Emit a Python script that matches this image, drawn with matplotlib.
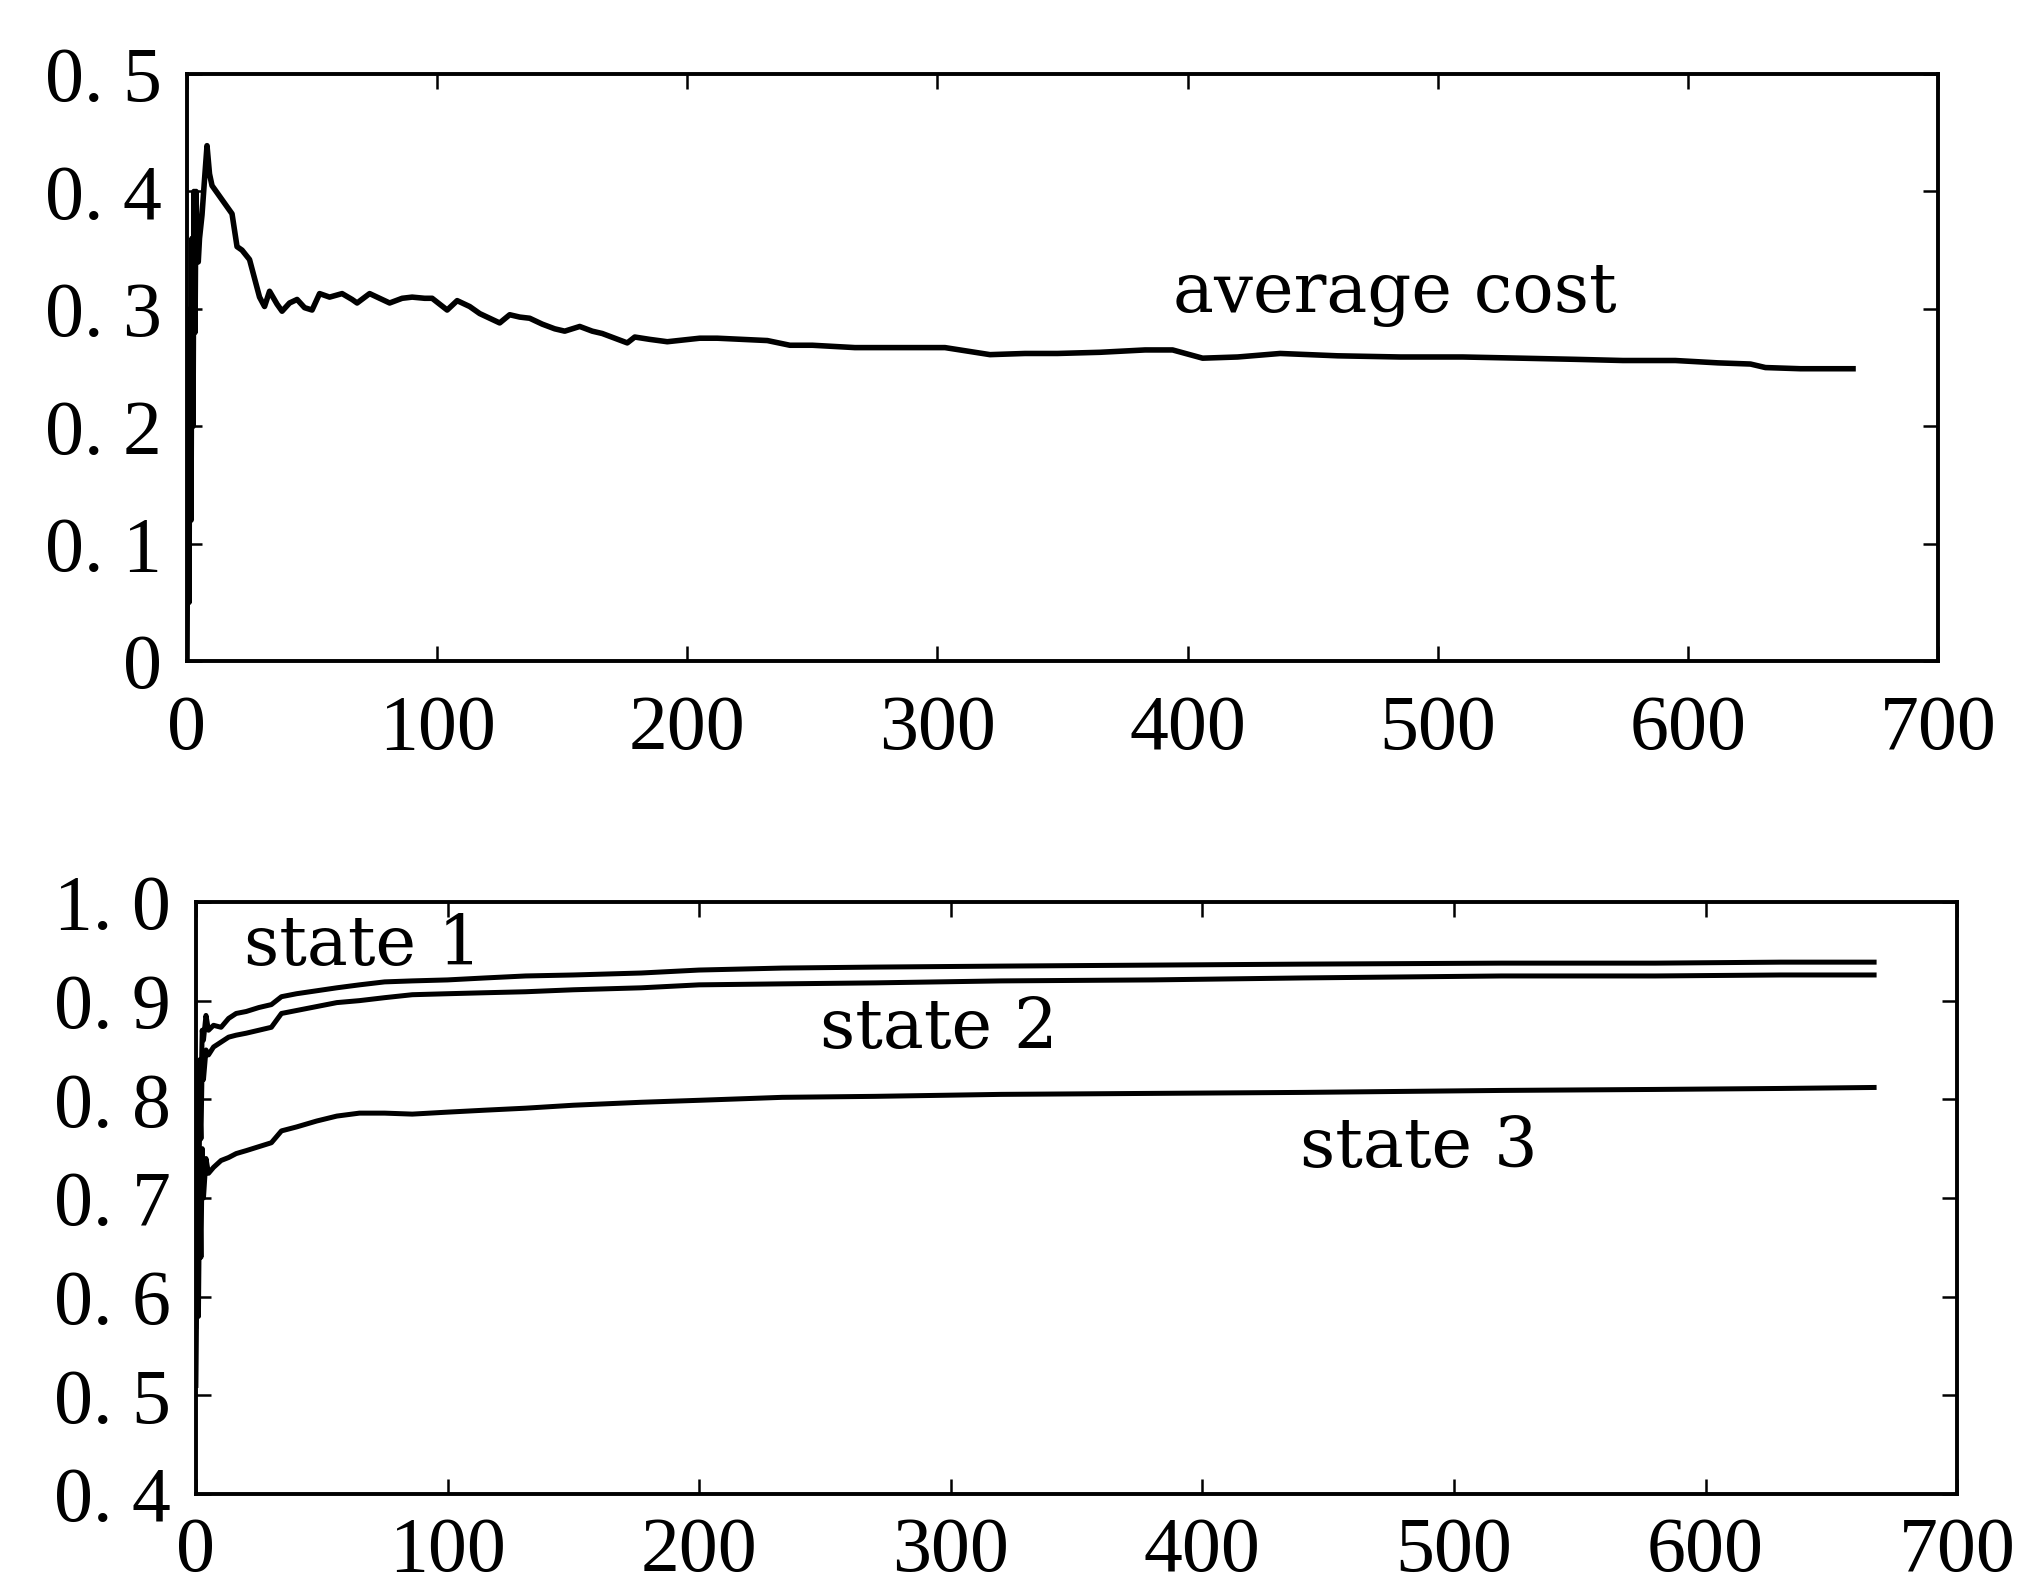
import matplotlib
matplotlib.use("Agg")
import matplotlib.pyplot as plt
from matplotlib.ticker import FixedLocator, FuncFormatter

# average cost curve (top panel)
cost_x = [0, 0.4, 0.8, 1.2, 1.6, 2, 2.4, 2.8, 3.2, 3.6, 4, 4.5, 5, 6, 7, 8, 9,
          10, 13, 15, 18, 20, 22, 25, 29, 31, 33, 36, 38, 41, 44, 47, 50, 53,
          57, 62, 66, 68, 73, 77, 81, 86, 90, 95, 98, 104, 108, 113, 117, 121,
          125, 129, 133, 137, 142, 147, 151, 157, 162, 166, 171, 176, 179, 185,
          192, 205, 212, 222, 232, 241, 250, 267, 285, 303, 321, 335, 348, 365,
          383, 394, 406, 420, 437, 460, 485, 510, 533, 555, 574, 595, 612, 625,
          631, 645, 666]
cost_y = [0.0, 0.22, 0.05, 0.30, 0.12, 0.36, 0.20, 0.40, 0.28, 0.40, 0.36,
          0.34, 0.36, 0.38, 0.41, 0.439, 0.415, 0.405, 0.396, 0.39, 0.381,
          0.353, 0.35, 0.342, 0.310, 0.302, 0.315, 0.304, 0.298, 0.305, 0.308,
          0.301, 0.299, 0.313, 0.310, 0.313, 0.308, 0.305, 0.313, 0.309, 0.305,
          0.309, 0.310, 0.309, 0.309, 0.299, 0.307, 0.302, 0.296, 0.292, 0.288,
          0.295, 0.293, 0.292, 0.287, 0.283, 0.281, 0.285, 0.281, 0.279, 0.275,
          0.271, 0.276, 0.274, 0.272, 0.275, 0.275, 0.274, 0.273, 0.269, 0.269,
          0.267, 0.267, 0.267, 0.261, 0.262, 0.262, 0.263, 0.265, 0.265, 0.258,
          0.259, 0.262, 0.260, 0.259, 0.259, 0.258, 0.257, 0.256, 0.256, 0.254,
          0.253, 0.250, 0.249, 0.249]

# probabilities of the three states (bottom panel)
state_x = [0, 0.5, 1, 1.5, 2, 2.5, 3, 4, 5, 7, 10, 13, 16, 20, 25, 30, 34, 40,
           48, 56, 65, 75, 86, 100, 115, 131, 150, 177, 200, 233, 270, 320, 380,
           440, 519, 580, 630, 667]
state1 = [0.62, 0.78, 0.70, 0.84, 0.80, 0.87, 0.86, 0.885, 0.87, 0.875, 0.873,
          0.882, 0.887, 0.889, 0.893, 0.896, 0.904, 0.907, 0.910, 0.913, 0.916,
          0.919, 0.920, 0.921, 0.923, 0.925, 0.926, 0.928, 0.931, 0.933, 0.934,
          0.935, 0.936, 0.937, 0.938, 0.938, 0.939, 0.939]
state2 = [0.57, 0.74, 0.66, 0.80, 0.76, 0.84, 0.82, 0.85, 0.845, 0.853, 0.858,
          0.863, 0.865, 0.867, 0.870, 0.873, 0.887, 0.890, 0.894, 0.898, 0.900,
          0.903, 0.906, 0.907, 0.908, 0.909, 0.911, 0.913, 0.916, 0.917, 0.918,
          0.920, 0.921, 0.923, 0.925, 0.925, 0.926, 0.926]
state3 = [0.51, 0.66, 0.58, 0.72, 0.64, 0.75, 0.70, 0.74, 0.725, 0.731, 0.738,
          0.741, 0.745, 0.748, 0.752, 0.756, 0.768, 0.772, 0.778, 0.783, 0.786,
          0.786, 0.785, 0.787, 0.789, 0.791, 0.794, 0.797, 0.799, 0.802, 0.803,
          0.805, 0.806, 0.807, 0.809, 0.810, 0.811, 0.812]

x_ticks = [0, 100, 200, 300, 400, 500, 600, 700]
top_yticks = [0, 0.1, 0.2, 0.3, 0.4, 0.5]
bot_yticks = [0.4, 0.5, 0.6, 0.7, 0.8, 0.9, 1.0]

tick_font = "Liberation Serif"
text_font = "DejaVu Serif"


def spaced(v, pos):
    # labels are typeset like "0. 5" in the original
    if abs(v) < 1e-9:
        return "0"
    return ("%.1f" % v).replace(".", ". ")


def style(ax, yticks, xpad):
    ax.set_xlim(0, 700)
    ax.xaxis.set_major_locator(FixedLocator(x_ticks))
    ax.yaxis.set_major_locator(FixedLocator(yticks))
    ax.yaxis.set_major_formatter(FuncFormatter(spaced))
    ax.tick_params(axis="both", direction="in", length=11, width=1.8,
                   top=True, right=True, labelsize=56)
    ax.tick_params(axis="x", pad=xpad)
    ax.tick_params(axis="y", pad=18)
    for lab in ax.get_xticklabels() + ax.get_yticklabels():
        lab.set_fontfamily(tick_font)
    for sp in ax.spines.values():
        sp.set_linewidth(2.8)


fig = plt.figure(figsize=(20.26, 15.86), dpi=100)

ax1 = fig.add_axes([0.0923, 0.5832, 0.8643, 0.3701])
ax1.plot(cost_x, cost_y, color="black", linewidth=4)
ax1.set_ylim(0, 0.5)
style(ax1, top_yticks, 24)
ax1.text(394, 0.297, "average cost", fontsize=49.5, family=text_font)

ax2 = fig.add_axes([0.0967, 0.0580, 0.8693, 0.3733])
for ys in (state1, state2, state3):
    ax2.plot(state_x, ys, color="black", linewidth=3.6)
ax2.set_ylim(0.4, 1.0)
style(ax2, bot_yticks, 16)
ax2.text(19, 0.936, "state 1", fontsize=49.5, family=text_font)
ax2.text(248, 0.852, "state 2", fontsize=49.5, family=text_font)
ax2.text(439, 0.731, "state 3", fontsize=49.5, family=text_font)

fig.savefig("out.png", dpi=100)
